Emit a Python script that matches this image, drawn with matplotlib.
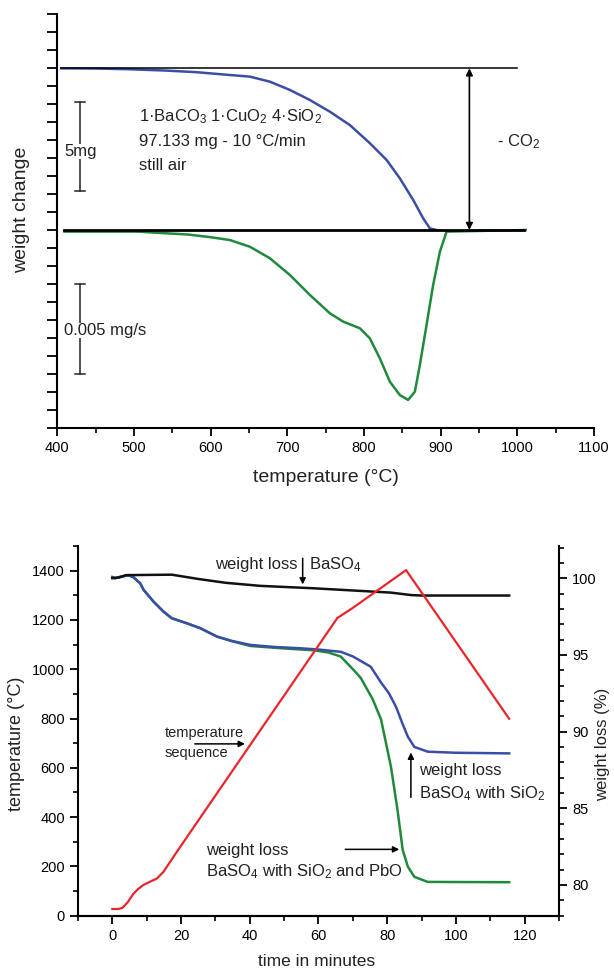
import matplotlib
matplotlib.use("Agg")
import matplotlib.pyplot as plt
import numpy as np
from matplotlib.ticker import MultipleLocator, NullFormatter

plt.rcParams['font.family'] = ['Liberation Sans', 'DejaVu Sans']
plt.rcParams['mathtext.fontset'] = 'custom'
plt.rcParams['mathtext.rm'] = 'Liberation Sans'
plt.rcParams['mathtext.it'] = 'Liberation Sans:italic'
plt.rcParams['mathtext.default'] = 'regular'

# ---- TG / DTG run, 1 BaCO3 : 1 CuO : 4 SiO2 (temperature in C, arbitrary weight units)
tg_temp = [405, 450, 493.7, 540, 580.4, 625.2, 651.2, 677.3, 703.4, 729.5, 755.6, 781.6,
           807.7, 829.5, 846.8, 864.2, 877.2, 886, 894.6]
tg_weight = [8.98, 8.97, 8.93, 8.86, 8.77, 8.61, 8.52, 8.24, 7.78, 7.22, 6.57, 5.83,
             4.82, 3.89, 2.87, 1.67, 0.65, 0.09, 0.0]

dtg_temp = [409.4, 503.9, 570.2, 600, 625.2, 651.2, 677.3, 703.4, 729.5, 755.6, 772.9, 794.7,
            807.7, 820.7, 833.8, 846.8, 857.6, 866.4, 872.9, 881.6, 890.2, 899, 907.7, 1011]
dtg_rate = [-0.09, -0.09, -0.25, -0.4, -0.56, -0.93, -1.57, -2.5, -3.61, -4.63, -5.09, -5.46,
            -6.02, -7.13, -8.43, -9.17, -9.44, -8.98, -7.5, -5.28, -3.06, -1.21, -0.09, 0.0]

start_level = 8.98          # weight before decomposition
top_line_temp = [405, 1000]
base_line_temp = [409, 1009]
co2_arrow_temp = 937.5
mass_bar = [2.17, 7.13]     # 5 mg
rate_bar = [-8.0, -3.0]     # 0.005 mg/s
bar_temp = 429

# ---- BaSO4 runs vs time
time_red = [0, 1.8, 3, 4.5, 6.1, 7.5, 9, 11, 13, 14.9, 16.8, 19.8, 65.5, 70, 85.5, 115.5]
temp_red = [27, 27, 32, 55, 88, 108, 124, 138, 151, 178, 218, 280, 1208, 1249, 1402, 799]

time_baso4 = [0, 2, 4, 17.3, 25, 33, 43.1, 58, 70, 81.1, 87, 90, 115.5]
wl_baso4 = [100.0, 100.05, 100.2, 100.23, 99.95, 99.7, 99.5, 99.35, 99.2, 99.06, 98.9, 98.87, 98.87]

time_sio2 = [0, 0.8, 2.5, 4.7, 6.1, 8.1, 9.1, 12, 14.9, 17.3, 21.7, 25.6, 30.5, 35, 40.2, 47, 54.8,
             60, 66.5, 70, 75.2, 78.2, 80.5, 82.6, 84.3, 86, 87.9, 91.8, 100, 115.5]
wl_sio2 = [100.07, 100.0, 100.1, 100.2, 100.07, 99.67, 99.24, 98.47, 97.82, 97.39, 97.06, 96.74, 96.19,
           95.9, 95.65, 95.52, 95.43, 95.35, 95.2, 94.9, 94.23, 93.2, 92.5, 91.6, 90.6, 89.67, 89.0,
           88.69, 88.62, 88.58]

time_pbo = [0, 0.8, 2.5, 4.7, 6.1, 8.1, 9.1, 12, 14.9, 17.3, 21.7, 25.6, 30.5, 35, 40.2, 50, 58.6,
            63, 66.5, 70.3, 72.3, 75.8, 78.2, 81.1, 83, 84.5, 86, 87.9, 91.8, 115.5]
wl_pbo = [100.07, 100.0, 100.1, 100.2, 100.07, 99.67, 99.24, 98.47, 97.82, 97.39, 97.06, 96.74, 96.19,
          95.88, 95.58, 95.42, 95.3, 95.15, 94.89, 94.0, 93.5, 92.1, 90.8, 87.7, 84.9, 82.3, 81.2,
          80.53, 80.2, 80.18]

blue = '#3b4ea6'
green = '#1f8a3c'
red = '#e8262b'

fig = plt.figure(figsize=(6.14, 9.71), dpi=100)

def style_axis(ax):
    ax.tick_params(which='major', direction='out', length=6, width=1.3, labelsize=10.5)
    ax.tick_params(which='minor', direction='out', length=3.5, width=1.2)
    for s in ax.spines.values():
        s.set_linewidth(1.5)

# ---------------- top plot ----------------
ax1 = fig.add_axes([0.0933, 0.5592, 0.8741, 0.4264])
ax1.plot(tg_temp, tg_weight, color=blue, lw=1.8, solid_joinstyle='round')
ax1.plot(dtg_temp, dtg_rate, color=green, lw=1.8, solid_joinstyle='round')
ax1.plot(top_line_temp, [start_level, start_level], color='k', lw=1.1)
ax1.plot(base_line_temp, [0, 0], color='k', lw=2)

ax1.annotate('', xy=(co2_arrow_temp, 0), xytext=(co2_arrow_temp, start_level),
             arrowprops=dict(arrowstyle='<|-|>', color='k', lw=1.2, mutation_scale=10,
                             shrinkA=0, shrinkB=0))
ax1.text(973, 4.9, '- CO$_2$', fontsize=12, va='center', color='#222')

for lo, hi in (mass_bar, rate_bar):
    ax1.plot([bar_temp, bar_temp], [lo, hi], color='#222', lw=1.1)
    ax1.plot([bar_temp - 6.5, bar_temp + 6.5], [lo, lo], color='#222', lw=1.1)
    ax1.plot([bar_temp - 6.5, bar_temp + 6.5], [hi, hi], color='#222', lw=1.1)
ax1.text(409.4, 4.35, '5mg', fontsize=12, va='center', color='#222',
         bbox=dict(facecolor='white', edgecolor='none', pad=0))
ax1.text(409.4, -5.56, '0.005 mg/s', fontsize=12, va='center', color='#222',
         bbox=dict(facecolor='white', edgecolor='none', pad=0))

ax1.text(506, 6.3, '1·BaCO$_3$ 1·CuO$_2$ 4·SiO$_2$', fontsize=12, va='center', color='#222')
ax1.text(506, 4.9, '97.133 mg - 10 °C/min', fontsize=12, va='center', color='#222')
ax1.text(506, 3.6, 'still air', fontsize=12, va='center', color='#222')

ax1.set_xlim(400, 1100)
ax1.set_ylim(-11, 12)
ax1.xaxis.set_major_locator(MultipleLocator(100))
ax1.xaxis.set_minor_locator(MultipleLocator(50))
ax1.yaxis.set_major_locator(MultipleLocator(1))
ax1.yaxis.set_major_formatter(NullFormatter())
ax1.spines['top'].set_visible(False)
ax1.spines['right'].set_visible(False)
style_axis(ax1)
ax1.tick_params(axis='y', length=7)
ax1.set_xlabel('temperature (°C)', fontsize=14, color='#222')
ax1.xaxis.set_label_coords(0.5, -0.10)
ax1.set_ylabel('weight change', fontsize=14, color='#222')
ax1.yaxis.set_label_coords(-0.051, 0.527)

# ---------------- bottom plot ----------------
ax2 = fig.add_axes([0.1270, 0.0570, 0.7834, 0.3807])
ax2r = ax2.twinx()
ax2.set_zorder(ax2r.get_zorder() + 1)
ax2.patch.set_visible(False)

ax2r.plot(time_pbo, wl_pbo, color=green, lw=1.8, solid_joinstyle='round')
ax2r.plot(time_sio2, wl_sio2, color=blue, lw=1.8, solid_joinstyle='round')
ax2r.plot(time_baso4, wl_baso4, color='#111', lw=1.8)
ax2.plot(time_red, temp_red, color=red, lw=1.6)

ax2.set_xlim(-10, 130)
ax2.set_ylim(0, 1500)
ax2r.set_ylim(78, 102.1)
ax2.xaxis.set_major_locator(MultipleLocator(20))
ax2.xaxis.set_minor_locator(MultipleLocator(10))
ax2.yaxis.set_major_locator(MultipleLocator(200))
ax2.yaxis.set_minor_locator(MultipleLocator(100))
ax2r.yaxis.set_major_locator(MultipleLocator(5))
ax2r.yaxis.set_minor_locator(MultipleLocator(1))
for a in (ax2, ax2r):
    a.spines['top'].set_visible(False)
    style_axis(a)
ax2.spines['right'].set_visible(False)
ax2r.spines['left'].set_visible(False)

ax2.set_xlabel('time in minutes', fontsize=12.5, color='#222')
ax2.xaxis.set_label_coords(0.497, -0.105)
ax2.set_ylabel('temperature (°C)', fontsize=13, color='#222')
ax2.yaxis.set_label_coords(-0.110, 0.464)
ax2r.set_ylabel('weight loss (%)', fontsize=12, color='#222')
ax2r.yaxis.set_label_coords(1.075, 0.464)

arrow = dict(arrowstyle='-|>', color='k', lw=1.1, mutation_scale=9, shrinkA=0, shrinkB=0)
ax2.text(53.9, 1425, 'weight loss', fontsize=12, ha='right', va='center', color='#222')
ax2.text(57.1, 1425, 'BaSO$_4$', fontsize=12, ha='left', va='center', color='#222')
ax2.annotate('', xy=(55.4, 1344), xytext=(55.4, 1450), arrowprops=arrow)

ax2.text(15.2, 741, 'temperature', fontsize=10.5, va='center', color='#222')
ax2.text(15.2, 659, 'sequence', fontsize=10.5, va='center', color='#222')
ax2.annotate('', xy=(38.6, 697), xytext=(24, 697), arrowprops=arrow)

ax2.text(89.3, 589, 'weight loss', fontsize=12, va='center', color='#222')
ax2.text(89.3, 496, 'BaSO$_4$ with SiO$_2$', fontsize=12, va='center', color='#222')
ax2.annotate('', xy=(86.9, 662), xytext=(86.9, 480), arrowprops=arrow)

ax2.text(27.4, 265, 'weight loss', fontsize=12, va='center', color='#222')
ax2.text(27.4, 178, 'BaSO$_4$ with SiO$_2$ and PbO', fontsize=12, va='center', color='#222')
ax2.annotate('', xy=(83.5, 269), xytext=(67.8, 269), arrowprops=arrow)

fig.savefig('out.png', dpi=100)
